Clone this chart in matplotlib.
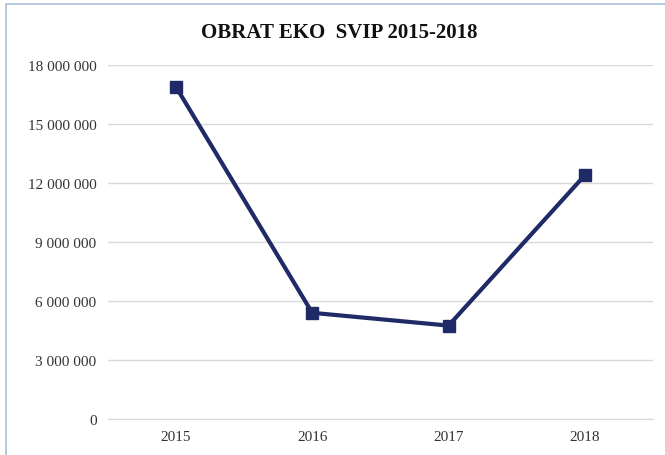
import matplotlib.pyplot as plt
from matplotlib.patches import Rectangle
from matplotlib.ticker import FuncFormatter

YEARS = ["2015", "2016", "2017", "2018"]
TURNOVER = [16900000, 5400000, 4750000, 12400000]
Y_TICKS = [0, 3000000, 6000000, 9000000, 12000000, 15000000, 18000000]
TITLE = "OBRAT EKO  SVIP 2015-2018"

LINE_COLOR = "#1f2a66"
GRID_COLOR = "#d9d9d9"
FONT = "Liberation Serif"


def thousands(value, _pos):
    return f"{int(value):,}".replace(",", " ")


def main():
    fig = plt.figure(figsize=(6.65, 4.56), dpi=100)
    fig.patches.append(Rectangle((6 / 665, -0.01), 1.0, 1 - 5 / 456 + 0.01,
                                 transform=fig.transFigure, fill=False,
                                 edgecolor="#a9bfd6", linewidth=1.2))

    ax = fig.add_axes([0.162, 0.079, 0.82, 0.776])
    x = range(len(YEARS))
    ax.plot(x, TURNOVER, color=LINE_COLOR, linewidth=3, marker="s",
            markersize=8, zorder=3)

    ax.set_xlim(-0.5, len(YEARS) - 0.5)
    ax.set_ylim(0, 18000000)
    ax.set_yticks(Y_TICKS)
    ax.yaxis.set_major_formatter(FuncFormatter(thousands))
    ax.set_xticks(list(x))
    ax.set_xticklabels(YEARS)

    ax.grid(axis="y", color=GRID_COLOR, linewidth=1)
    ax.set_axisbelow(True)
    for side in ["top", "right", "left"]:
        ax.spines[side].set_visible(False)
    ax.spines["bottom"].set_color(GRID_COLOR)
    ax.tick_params(length=0, labelsize=11, pad=8)
    for label in ax.get_xticklabels() + ax.get_yticklabels():
        label.set_fontfamily(FONT)
        label.set_color("#333333")

    fig.text(0.51, 0.928, TITLE, ha="center", va="center", fontsize=15,
             fontweight="bold", fontfamily=FONT, color="#111111")

    fig.savefig("out.png", dpi=100)


if __name__ == "__main__":
    main()
